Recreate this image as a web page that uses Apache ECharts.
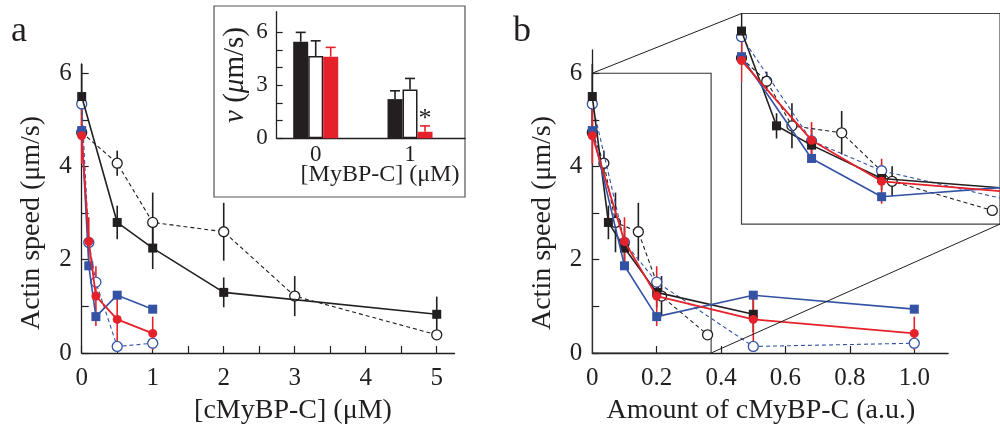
<!DOCTYPE html>
<html><head><meta charset="utf-8">
<script src="https://cdn.jsdelivr.net/npm/echarts@6/dist/echarts.min.js"></script>
<style>html,body{margin:0;padding:0;background:#fff}#c{width:1000px;height:427px}</style>
</head><body><div id="c"></div>
<script>
// ---------- Panel a : speed vs [cMyBP-C] (µM) ----------
const aBlkSqX = [0, 0.5, 1, 2, 5];
const aBlkSqY = [5.5, 2.8, 2.25, 1.3, 0.83];
const aBlkSqE = [0.7, 0.36, 0.45, 0.32, 0.38];
const aBlkCiX = [0, 0.5, 1, 2, 3, 5];
const aBlkCiY = [4.73, 4.07, 2.8, 2.6, 1.22, 0.39];
const aBlkCiE = [0, 0.27, 0.64, 0.62, 0.43, 0];
const aBluSqX = [0, 0.1, 0.2, 0.5, 1];
const aBluSqY = [4.77, 1.87, 0.78, 1.24, 0.94];
const aBluCiX = [0, 0.1, 0.2, 0.5, 1];
const aBluCiY = [5.34, 2.37, 1.52, 0.14, 0.21];
const aRedX = [0, 0.1, 0.2, 0.5, 1];
const aRedY = [4.66, 2.39, 1.22, 0.72, 0.42];
const aRedE = [0.6, 0.52, 0.64, 0.55, 0.36];
// ---------- Panel b : same speeds vs amount (a.u.) ----------
const bBlkSqX = [0, 0.05, 0.1, 0.2, 0.5];
const bBlkCiX = [0, 0.036, 0.072, 0.143, 0.215, 0.358];
const bBluSqX = [0, 0.1, 0.2, 0.5, 1.0];
const bBluCiX = [0, 0.1, 0.2, 0.5, 1.0];
const bRedX = [0, 0.1, 0.2, 0.5, 1.0];
// ---------- Inset of panel a : bars ----------
const insX = [0, 1];
const insBlk = [5.47, 2.22], insBlkE = [0.53, 0.47];
const insWht = [4.66, 2.77], insWhtE = [0.86, 0.62];
const insRed = [4.62, 0.37], insRedE = [0.53, 0.33];
// ---------- Tick labels ----------
const aXTicks = [0, 0.5, 1, 1.5, 2, 2.5, 3, 3.5, 4, 4.5, 5];
const aXLabels = [0, 1, 2, 3, 4, 5];
const yTicks = [0, 1, 2, 3, 4, 5, 6];
const yLabels = [0, 2, 4, 6];
const bXTicks = [0.2, 0.4, 0.6, 0.8, 1.0];
const bXLabels = [0, 0.2, 0.4, 0.6, 0.8, 1.0];
const insYLabels = [0, 3, 6];
// zoom window shown in panel b inset
const zoomX = [0, 0.369];
const zoomY = [0, 6];

const FONT = "'Liberation Serif','Times New Roman',serif";
const INK = '#231f20', BLUE = '#3553a5', RED = '#e5222a';

function pts(xs, ys, es) { return xs.map((x, i) => es ? [x, ys[i], es[i]] : [x, ys[i]]); }

function errSeries(ax, xs, ys, es, color, clip) {
  return {
    type: 'custom', xAxisIndex: ax, yAxisIndex: ax, clip: !!clip, z: 2, silent: true,
    data: pts(xs, ys, es), encode: { x: 0, y: 1 },
    renderItem: (p, api) => {
      const x = api.value(0), y = api.value(1), e = api.value(2);
      if (!e) return null;
      const t = api.coord([x, y + e]), b = api.coord([x, y - e]);
      return { type: 'line', shape: { x1: t[0], y1: t[1], x2: b[0], y2: b[1] }, style: { stroke: color, lineWidth: 1.6 } };
    }
  };
}
const ST = {
  blkCi: { symbol: 'circle', size: 10, item: { color: '#fff', borderColor: INK, borderWidth: 1.3 }, line: { color: INK, width: 1.1, type: [4, 3] }, z: 3 },
  bluCi: { symbol: 'circle', size: 10, item: { color: '#fff', borderColor: BLUE, borderWidth: 1.3 }, line: { color: BLUE, width: 1.1, type: [4, 3] }, z: 4 },
  blkSq: { symbol: 'rect', size: 9, item: { color: INK }, line: { color: INK, width: 1.6 }, z: 5 },
  bluSq: { symbol: 'rect', size: 9, item: { color: BLUE }, line: { color: BLUE, width: 1.6 }, z: 6 },
  red: { symbol: 'circle', size: 9, item: { color: RED }, line: { color: RED, width: 1.8 }, z: 7 }
};
function lineS(ax, xs, ys, st, clip, extra) {
  return Object.assign({
    type: 'line', xAxisIndex: ax, yAxisIndex: ax, data: pts(xs, ys), symbol: st.symbol, symbolSize: st.size,
    itemStyle: st.item, lineStyle: st.line, clip: !!clip, z: st.z, silent: true
  }, extra || {});
}
function panel(ax, X, clip, extraSq) {
  return [
    errSeries(ax, X.blkCi, aBlkCiY, aBlkCiE, INK, clip),
    errSeries(ax, X.blkSq, aBlkSqY, aBlkSqE, INK, clip),
    errSeries(ax, X.red, aRedY, aRedE, RED, clip),
    lineS(ax, X.blkCi, aBlkCiY, ST.blkCi, clip),
    lineS(ax, X.bluCi, aBluCiY, ST.bluCi, clip),
    lineS(ax, X.blkSq, aBlkSqY, ST.blkSq, clip, extraSq),
    lineS(ax, X.bluSq, aBluSqY, ST.bluSq, clip),
    lineS(ax, X.red, aRedY, ST.red, clip)
  ];
}
const XA = { blkSq: aBlkSqX, blkCi: aBlkCiX, bluSq: aBluSqX, bluCi: aBluCiX, red: aRedX };
const XB = { blkSq: bBlkSqX, blkCi: bBlkCiX, bluSq: bBluSqX, bluCi: bBluCiX, red: bRedX };

const axLine = { show: true, onZero: false, lineStyle: { color: INK, width: 1.3 } };
function valAxis(grid, min, max, ticks, labels, o) {
  o = o || {};
  return {
    type: 'value', gridIndex: grid, min: min, max: max, splitLine: { show: false },
    axisLine: axLine,
    axisTick: ticks ? { show: true, inside: true, length: o.tl || 7, customValues: ticks, lineStyle: { color: INK, width: 1.2 } } : { show: false },
    axisLabel: {
      show: !!labels, customValues: labels || [], fontFamily: FONT, fontSize: o.fs || 25, color: INK, margin: o.m || 12,
      formatter: o.fmt || (v => String(v))
    }
  };
}

const barBase = { type: 'bar', xAxisIndex: 1, yAxisIndex: 1, barWidth: 15, barGap: '0%', silent: true, z: 3 };
function capSeries(ys, es, off) {
  return {
    type: 'custom', xAxisIndex: 1, yAxisIndex: 1, z: 4, silent: true, data: pts(insX, ys, es), encode: { x: 0, y: 1 },
    renderItem: (p, api) => {
      const x = api.value(0), y = api.value(1), e = api.value(2);
      const b = api.coord([x, y]), t = api.coord([x, y + e]);
      const cx = b[0] + off;
      return {
        type: 'group', children: [
          { type: 'line', shape: { x1: cx, y1: b[1], x2: cx, y2: t[1] }, style: { stroke: off > 0 ? RED : INK, lineWidth: 1.6 } },
          { type: 'line', shape: { x1: cx - 5, y1: t[1], x2: cx + 5, y2: t[1] }, style: { stroke: off > 0 ? RED : INK, lineWidth: 1.6 } }
        ]
      };
    }
  };
}

const chart = echarts.init(document.getElementById('c'), null, { renderer: 'canvas' });
const txt = (id, text, x, y, fs, rot, extra) => ({
  type: 'text', id: id, x: x, y: y, rotation: rot || 0, z: 50,
  style: Object.assign({ text: text, fontFamily: FONT, fontSize: fs, fill: INK, align: 'center', verticalAlign: 'middle' }, extra || {})
});

const option = {
  animation: false,
  backgroundColor: '#fff',
  grid: [
    { left: 81.7, top: 63.9, width: 372.8, height: 289.1 },
    { left: 276.7, top: 11.7, width: 188.3, height: 126.6 },
    { left: 592.3, top: 49.9, width: 355.8, height: 303.1 },
    { left: 741.5, top: 13.5, width: 267.5, height: 210.6, show: true, backgroundColor: '#fff', borderColor: '#444', borderWidth: 1.2, z: 8 }
  ],
  xAxis: [
    valAxis(0, 0, 5.25, aXTicks, aXLabels, { m: 13 }),
    valAxis(1, -0.4136, 1.583, null, insX, { fs: 23, m: 5 }),
    valAxis(2, 0, 1.105, bXTicks, bXLabels, { m: 13, fmt: v => v === 0 ? '0' : v.toFixed(1) }),
    { type: 'value', gridIndex: 3, min: zoomX[0], max: zoomX[1], show: false }
  ],
  yAxis: [
    valAxis(0, 0, 6.2, yTicks, yLabels, { m: 10 }),
    valAxis(1, 0, 7.17, yTicks, insYLabels, { fs: 23, m: 9, tl: 6 }),
    valAxis(2, 0, 6.5, yTicks, yLabels, { m: 10 }),
    { type: 'value', gridIndex: 3, min: zoomY[0], max: zoomY[1], show: false }
  ],
  series: [].concat(
    panel(0, XA, false),
    panel(2, XB, false, {
      markArea: {
        silent: true, itemStyle: { color: 'rgba(0,0,0,0)', borderColor: '#333', borderWidth: 1.1 },
        data: [[{ coord: [zoomX[0], zoomY[0]] }, { coord: [zoomX[1], zoomY[1]] }]]
      }
    }),
    panel(3, XB, true).map(s => Object.assign(s, { z: s.z + 10 })),
    [
      Object.assign({}, barBase, { data: pts(insX, insBlk), itemStyle: { color: INK } }),
      Object.assign({}, barBase, { data: pts(insX, insWht), itemStyle: { color: '#fff', borderColor: INK, borderWidth: 1.5 } }),
      Object.assign({}, barBase, {
        data: pts(insX, insRed).map((d, i) => i === 1 ? { value: d, label: { show: true, position: 'top', distance: 0, formatter: '*', fontSize: 26, fontFamily: FONT, color: INK } } : d),
        itemStyle: { color: RED }
      }),
      capSeries(insBlk, insBlkE, -15),
      capSeries(insWht, insWhtE, 0),
      capSeries(insRed, insRedE, 15)
    ]
  ),
  graphic: { elements: [
    { type: 'rect', id: 'insetFrame', z: -1, shape: { x: 214, y: 6, width: 251, height: 191 }, style: { fill: '#fff', stroke: '#555', lineWidth: 1.2 } },
    txt('la', 'a', 19, 32, 36),
    txt('lb', 'b', 522, 32, 36),
    txt('aY', 'Actin speed (μm/s)', 32, 223, 28, Math.PI / 2),
    txt('aX', '[cMyBP-C] (μM)', 293, 411, 28),
    txt('bY', 'Actin speed (μm/s)', 543, 223, 28, Math.PI / 2),
    txt('bX', 'Amount of cMyBP-C (a.u.)', 761, 411, 28),
    txt('iX', '[MyBP-C] (μM)', 380, 175, 24),
    txt('iY', '{i|v} ({i|μ}m/s)', 235, 75, 29, Math.PI / 2, { rich: { i: { fontStyle: 'italic', fontFamily: FONT, fontSize: 29, fill: INK } } })
  ] }
};
chart.setOption(option);

// connectors between zoom rectangle (panel b) and its enlarged inset
const p1 = chart.convertToPixel({ xAxisIndex: 2, yAxisIndex: 2 }, [zoomX[0], zoomY[1]]);
const q1 = chart.convertToPixel({ xAxisIndex: 3, yAxisIndex: 3 }, [zoomX[0], zoomY[1]]);
const p2 = chart.convertToPixel({ xAxisIndex: 2, yAxisIndex: 2 }, [zoomX[1], zoomY[0]]);
const q2 = chart.convertToPixel({ xAxisIndex: 3, yAxisIndex: 3 }, [zoomX[1], zoomY[0]]);
chart.setOption({ graphic: { elements: [
  { type: 'line', id: 'c1', z: 20, shape: { x1: p1[0], y1: p1[1], x2: q1[0], y2: q1[1] }, style: { stroke: INK, lineWidth: 1 } },
  { type: 'line', id: 'c2', z: 20, shape: { x1: p2[0], y1: p2[1], x2: q2[0], y2: q2[1] }, style: { stroke: INK, lineWidth: 1 } }
] } });
</script></body></html>
